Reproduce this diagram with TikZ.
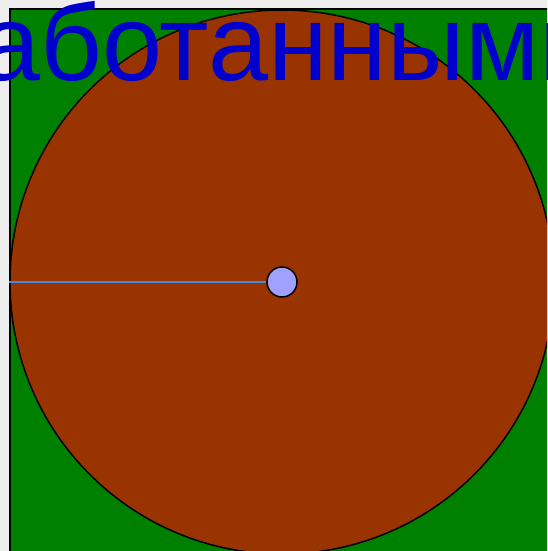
\documentclass[tikz,border=0pt]{standalone}
\usepackage{fontspec}
\setmainfont{Liberation Sans}
\definecolor{bggray}{HTML}{EDEDED}
\definecolor{fieldgreen}{HTML}{008000}
\definecolor{diskbrown}{HTML}{993300}
\definecolor{textblue}{HTML}{0000CC}
\definecolor{hubblue}{HTML}{A0A0FF}
\definecolor{rayblue}{HTML}{4A8AD8}
\begin{document}
\begin{tikzpicture}[x=1pt,y=1pt,
  disk/.style={circle,draw=black,line width=1.5pt,fill=diskbrown,minimum size=544pt,inner sep=0pt},
  hubnode/.style={circle,draw=black,line width=1.5pt,fill=hubblue,minimum size=30pt,inner sep=0pt},
  ray/.style={draw=rayblue,line width=2pt},
  title/.style={text=textblue,inner sep=0pt,anchor=base west,font=\fontsize{108}{110}\selectfont}]
\useasboundingbox (0,0) rectangle (547,-551);
\begin{scope}
\clip (0,0) rectangle (547,-551);
\fill[bggray] (0,0) rectangle (547,-551);
\draw[fill=fieldgreen,line width=2pt] (10,-9) rectangle (600,-600);
\node[disk] (big) at (282,-282) {};
\node[hubnode] (hub) at (282,-282) {};
\draw[ray] (big.west) -- (hub.west);
\node[title] (caption) at (-20,-81) {аботанными};
\end{scope}
\end{tikzpicture}
\end{document}
